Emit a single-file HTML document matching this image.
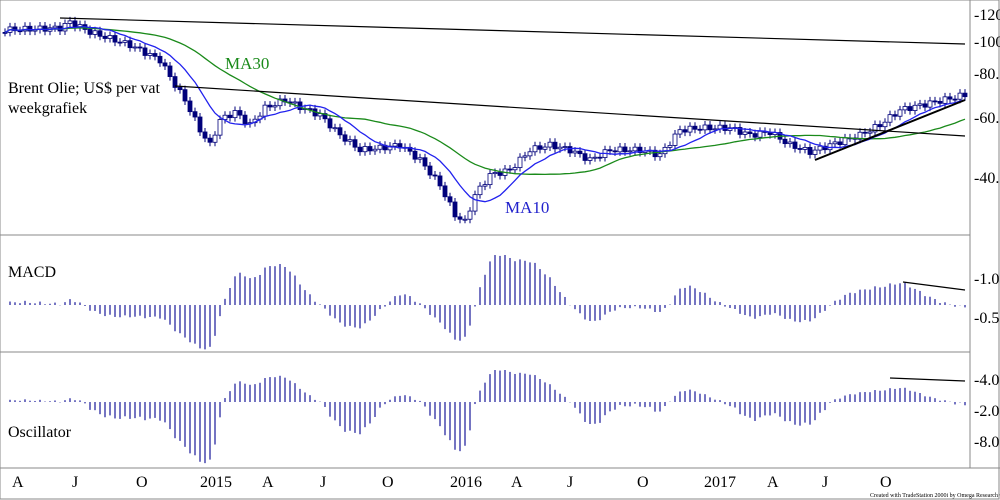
<!DOCTYPE html><html><head><style>body{margin:0;background:#fff}svg{display:block}text{font-family:"Liberation Serif",serif}</style></head><body>
<svg id="s" width="1000" height="500" xmlns="http://www.w3.org/2000/svg">
<rect x="0" y="0" width="999" height="499" fill="#fff" stroke="#888"/>
<line x1="970" y1="0" x2="970" y2="468" stroke="#888"/>
<line x1="0" y1="235" x2="970" y2="235" stroke="#888"/>
<line x1="0" y1="352" x2="970" y2="352" stroke="#888"/>
<line x1="0" y1="468" x2="1000" y2="468" stroke="#888"/>
<g font-size="16" fill="#000">
<text x="974" y="20">-120</text><text x="974" y="47">-100</text><text x="974" y="79">-80.0</text><text x="974" y="123">-60.0</text><text x="974" y="183">-40.0</text>
<text x="974" y="284">-1.0</text><text x="974" y="323">-0.5</text>
<text x="974" y="385">-4.0</text><text x="974" y="416">-2.0</text><text x="974" y="447">-8.0</text>
<text x="12" y="487">A</text><text x="72" y="487">J</text><text x="136" y="487">O</text><text x="200" y="487">2015</text><text x="262" y="487">A</text><text x="320" y="487">J</text><text x="382" y="487">O</text><text x="450" y="487">2016</text><text x="511" y="487">A</text><text x="567" y="487">J</text><text x="637" y="487">O</text><text x="704" y="487">2017</text><text x="767" y="487">A</text><text x="822" y="487">J</text><text x="880" y="487">O</text>
<text x="8" y="93" font-size="16">Brent Olie; US$ per vat</text><text x="8" y="113" font-size="16">weekgrafiek</text>
<text x="225" y="69" font-size="17" fill="#1a8a1a">MA30</text><text x="505" y="213" font-size="17" fill="#2222cc">MA10</text>
<text x="8" y="277" font-size="16">MACD</text><text x="8" y="437" font-size="16">Oscillator</text>
<text x="870" y="497" font-size="6">Created with TradeStation 2000i by Omega Research © 1999</text>
</g>
<g id="g"></g>
<g stroke="#000" stroke-width="1.2">
<line x1="60" y1="18" x2="965" y2="44"/><line x1="175" y1="86" x2="965" y2="136"/>
<line x1="815" y1="160" x2="965" y2="100" stroke-width="2"/>
<line x1="903" y1="282" x2="965" y2="290"/><line x1="890" y1="378" x2="965" y2="381"/>
</g>
</svg>
<script>
var k=[[5,30],[60,28],[70,22],[90,32],[130,45],[160,60],[175,85],[185,100],[200,130],[210,145],[220,120],[235,112],[250,125],[265,108],[285,100],[300,107],[320,115],[340,135],[360,150],[380,148],[400,145],[420,160],[440,185],[455,215],[465,222],[475,195],[490,175],[510,170],[530,150],[550,145],[570,150],[590,160],[610,150],[640,150],[660,155],[680,130],[700,128],[730,128],[750,135],[770,132],[790,145],[810,152],[830,145],[860,135],[880,125],[900,110],[930,103],[965,95]];
function f(x){for(var i=1;i<k.length;i++)if(x<=k[i][0]){var a=k[i-1],b=k[i];return a[1]+(b[1]-a[1])*(x-a[0])/(b[0]-a[0]);}return 95;}
var xs=[],c=[],h='';for(var x=5;x<=965;x+=5){xs.push(x);c.push(f(x)+Math.sin(x*1.7)*3);}
function ma(n){return c.map(function(v,i){var s=0,m=0;for(var j=Math.max(0,i-n+1);j<=i;j++){s+=c[j];m++;}return s/m;});}
function pl(a,col){return '<polyline fill="none" stroke="'+col+'" stroke-width="1.3" points="'+a.map(function(v,i){return xs[i]+','+v.toFixed(1)}).join(' ')+'"/>';}
for(var i=0;i<c.length;i++){var o=i?c[i-1]:c[0],cl=c[i],t=Math.min(o,cl),b=Math.max(o,cl);h+='<line x1="'+xs[i]+'" x2="'+xs[i]+'" y1="'+(t-4)+'" y2="'+(b+4)+'" stroke="#00007a"/>';var up=cl<o;h+='<rect x="'+(xs[i]-2)+'" y="'+t+'" width="4" height="'+Math.max(1,b-t)+'" fill="'+(up?'#fff':'#00007a')+'" stroke="#00007a" stroke-width="0.8"/>';}
h+=pl(ma(30),'#1a8a1a')+pl(ma(10),'#2222ee');
var v=c.map(function(y){return -y}),e12=[],e26=[],m=[],sg=[];
for(i=0;i<v.length;i++){e12[i]=i?e12[i-1]+(v[i]-e12[i-1])*2/9:v[i];e26[i]=i?e26[i-1]+(v[i]-e26[i-1])*2/19:v[i];m[i]=e12[i]-e26[i];sg[i]=i?sg[i-1]+(m[i]-sg[i-1])*2/10:m[i];}
var os=m.map(function(a,i){return a-sg[i]});
var om=Math.max.apply(null,os.map(Math.abs));
for(i=0;i<v.length;i++){var q=os[i]/om;var y=q*(q>0?50:45);h+='<line x1="'+xs[i]+'" x2="'+xs[i]+'" y1="305" y2="'+(305-y)+'" stroke="#2a2aa0" stroke-width="1.3"/>';y=q*(q>0?32:62);h+='<line x1="'+xs[i]+'" x2="'+xs[i]+'" y1="402" y2="'+(402-y)+'" stroke="#2a2aa0" stroke-width="1.3"/>';}
document.getElementById('g').innerHTML=h;
</script>
</body></html>
